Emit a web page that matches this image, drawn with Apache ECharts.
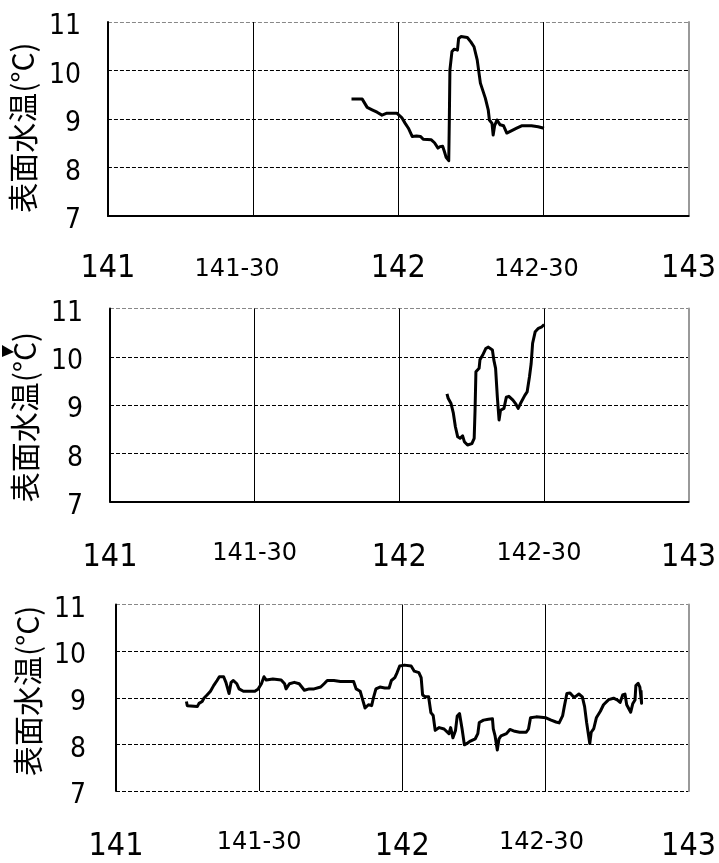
<!DOCTYPE html>
<html>
<head>
<meta charset="utf-8">
<script src="https://cdn.jsdelivr.net/npm/echarts@6/dist/echarts.min.js"></script>
<style>
html,body{margin:0;padding:0;background:#fff;}
#chart{width:719px;height:863px;}
</style>
</head>
<body>
<div id="chart"></div>
<script>
// ---- data (longitude in degrees, surface water temperature in °C) ----
const xTickLabels = ['141', '141-30', '142', '142-30', '143'];
const yAxisName = '表面水温(°C)';

const lon1 = [141.839,141.876,141.893,141.910,141.927,141.944,141.961,141.995,142.012,142.024,142.035,142.048,142.063,142.077,142.086,142.114,142.125,142.137,142.144,142.153,142.159,142.165,142.174,142.176,142.178,142.185,142.193,142.204,142.208,142.216,142.238,142.250,142.261,142.272,142.283,142.300,142.310,142.314,142.323,142.327,142.332,142.340,142.351,142.363,142.374,142.391,142.408,142.425,142.459,142.482,142.502];
const sst1 = [9.41,9.41,9.24,9.19,9.14,9.08,9.12,9.12,9.03,8.91,8.81,8.64,8.65,8.64,8.58,8.57,8.51,8.40,8.43,8.44,8.33,8.21,8.14,8.98,10.01,10.39,10.44,10.42,10.66,10.70,10.68,10.59,10.49,10.22,9.74,9.43,9.19,8.98,8.91,8.67,8.86,8.98,8.88,8.86,8.71,8.76,8.81,8.86,8.86,8.84,8.81];

const lon2 = [142.165,142.169,142.179,142.187,142.194,142.202,142.210,142.219,142.225,142.236,142.251,142.259,142.262,142.265,142.276,142.279,142.288,142.299,142.308,142.322,142.327,142.333,142.339,142.345,142.350,142.362,142.370,142.379,142.393,142.402,142.411,142.419,142.434,142.442,142.450,142.456,142.461,142.470,142.481,142.493,142.501];
const sst2 = [9.23,9.14,9.03,8.83,8.55,8.34,8.31,8.36,8.24,8.17,8.20,8.31,8.89,9.69,9.76,9.94,10.03,10.17,10.20,10.14,9.93,9.76,9.17,8.69,8.89,8.93,9.16,9.18,9.10,9.03,8.93,9.03,9.20,9.27,9.58,9.86,10.28,10.52,10.59,10.62,10.67];

const lon3 = [141.246,141.249,141.284,141.290,141.301,141.307,141.318,141.330,141.341,141.353,141.361,141.376,141.384,141.395,141.402,141.410,141.422,141.430,141.445,141.485,141.497,141.508,141.517,141.525,141.548,141.577,141.589,141.594,141.606,141.623,141.640,141.658,141.675,141.692,141.715,141.727,141.738,141.761,141.784,141.830,141.839,141.853,141.862,141.870,141.882,141.893,141.899,141.908,141.922,141.939,141.954,141.962,141.974,141.982,141.991,142.008,142.031,142.042,142.058,142.066,142.071,142.080,142.092,142.100,142.108,142.115,142.129,142.146,142.163,142.169,142.177,142.186,142.192,142.200,142.209,142.217,142.226,142.238,142.255,142.264,142.269,142.284,142.301,142.315,142.318,142.324,142.332,142.338,142.345,142.364,142.376,142.393,142.410,142.433,142.441,142.448,142.468,142.502,142.520,142.537,142.548,142.560,142.566,142.575,142.586,142.598,142.606,142.617,142.629,142.637,142.644,142.655,142.660,142.669,142.678,142.692,142.703,142.721,142.738,142.752,142.761,142.770,142.778,142.784,142.790,142.798,142.805,142.813,142.816,142.824,142.830,142.836,142.834];
const sst3 = [8.92,8.83,8.81,8.88,8.92,8.99,9.06,9.14,9.26,9.37,9.45,9.45,9.33,9.09,9.33,9.37,9.30,9.19,9.14,9.14,9.19,9.30,9.45,9.38,9.40,9.38,9.30,9.19,9.30,9.33,9.30,9.16,9.19,9.19,9.23,9.30,9.37,9.37,9.35,9.35,9.19,9.14,8.95,8.78,8.85,8.83,8.99,9.19,9.23,9.21,9.21,9.37,9.43,9.54,9.68,9.70,9.68,9.57,9.54,9.43,9.06,9.02,9.02,8.68,8.62,8.30,8.36,8.33,8.23,8.36,8.14,8.30,8.61,8.66,8.33,7.99,8.02,8.07,8.12,8.23,8.47,8.52,8.54,8.55,8.33,8.19,7.88,8.12,8.18,8.23,8.32,8.28,8.26,8.26,8.33,8.57,8.59,8.57,8.52,8.48,8.46,8.61,8.81,9.09,9.10,9.02,9.03,9.08,9.02,8.81,8.47,8.02,8.26,8.34,8.57,8.71,8.85,8.96,8.99,8.95,8.90,9.06,9.08,8.85,8.87,8.69,8.87,8.95,9.26,9.31,9.23,8.88,9.16];

// ---- layout ----
const NARROW = '"Liberation Sans Narrow", "DejaVu Sans Condensed", "Liberation Sans", sans-serif';
const panels = [
  {lon: lon1, sst: sst1, grid: {left: 100, top: 22, width: 589.5, height: 194}, bottomSolid: true,
   yMargin: 27, nameGap: 63, namePad: [0, 17, 0, 0], xMargin: 37,
   sPad: {s1: [10, 32, 0, 0], s3: [10, 14, 0, 0]}},
  {lon: lon2, sst: sst2, grid: {left: 110, top: 308.5, width: 585, height: 193}, bottomSolid: true,
   yMargin: 27, nameGap: 64, namePad: [0, 24, 0, 0], xMargin: 40,
   sPad: {s1: [0, 0, 0, 0], s3: [0, 10, 0, 0]}},
  {lon: lon3, sst: sst3, grid: {left: 116, top: 604.5, width: 580, height: 193}, bottomSolid: false,
   yMargin: 30, nameGap: 71, namePad: [0, 0, 0, 14], xMargin: 40,
   sPad: {s1: [0, 0, 0, 0], s3: [0, 8, 0, 0]}}
];

const grids = [], xAxes = [], yAxes = [], series = [];
panels.forEach((p, i) => {
  grids.push(Object.assign({containLabel: false}, p.grid));
  xAxes.push({
    type: 'value', gridIndex: i, min: 141, max: 143, interval: 0.5,
    axisLine: {show: p.bottomSolid, onZero: false, lineStyle: {color: '#000', width: 2}},
    axisTick: {show: false},
    splitLine: {show: true, lineStyle: {color: ['#000', '#000', '#000', '#000', '#999'], width: 1, type: 'solid'}},
    axisLabel: {
      margin: p.xMargin,
      formatter: function (v) {
        const k = Math.round((v - 141) * 2);
        const t = xTickLabels[k];
        if (k % 2 === 1) return '{s' + k + '|' + t + '}';
        return '{b|' + t + '}';
      },
      rich: {
        b: {fontSize: 32, lineHeight: 32, fontFamily: NARROW, color: '#000'},
        s1: {fontSize: 24, lineHeight: 24, fontFamily: '"DejaVu Sans", sans-serif', color: '#000', padding: p.sPad.s1},
        s3: {fontSize: 24, lineHeight: 24, fontFamily: '"DejaVu Sans", sans-serif', color: '#000', padding: p.sPad.s3}
      }
    }
  });
  yAxes.push({
    type: 'value', gridIndex: i, min: 7, max: 11, interval: 1, position: 'left',
    name: yAxisName, nameLocation: 'middle', nameGap: p.nameGap, nameRotate: 90,
    nameTextStyle: {fontSize: 30, fontFamily: '"Noto Sans CJK JP", sans-serif', color: '#000', padding: p.namePad},
    axisLine: {show: true, onZero: false, lineStyle: {color: '#000', width: 2}},
    axisTick: {show: false},
    axisLabel: {
      margin: p.yMargin,
      formatter: function (v) { return '{t|' + v + '}'; },
      rich: {t: {fontSize: 28, lineHeight: 28, fontFamily: NARROW, color: '#000', padding: [10, 0, 0, 0]}}
    },
    splitLine: {show: true, lineStyle: {color: ['#000', '#000', '#000', '#000', '#888'], width: 1.2, type: [4, 2]}}
  });
  yAxes.push({
    type: 'value', gridIndex: i, min: 7, max: 11, interval: 1, position: 'right',
    axisLine: {show: true, onZero: false, lineStyle: {color: '#999', width: 2}},
    axisTick: {show: false}, axisLabel: {show: false}, splitLine: {show: false}
  });
  series.push({
    type: 'line', xAxisIndex: i, yAxisIndex: 2 * i,
    data: p.lon.map((x, j) => [x, p.sst[j]]),
    showSymbol: false, symbol: 'none', smooth: false,
    lineStyle: {color: '#000', width: 3, join: 'round'},
    silent: true
  });
});

const chart = echarts.init(document.getElementById('chart'), null, {renderer: 'canvas'});
chart.setOption({
  animation: false,
  backgroundColor: '#fff',
  grid: grids, xAxis: xAxes, yAxis: yAxes, series: series,
  graphic: [{
    type: 'polygon', shape: {points: [[2, 345], [14, 352], [2, 357]]},
    style: {fill: '#000'}
  }]
});
</script>
</body>
</html>
